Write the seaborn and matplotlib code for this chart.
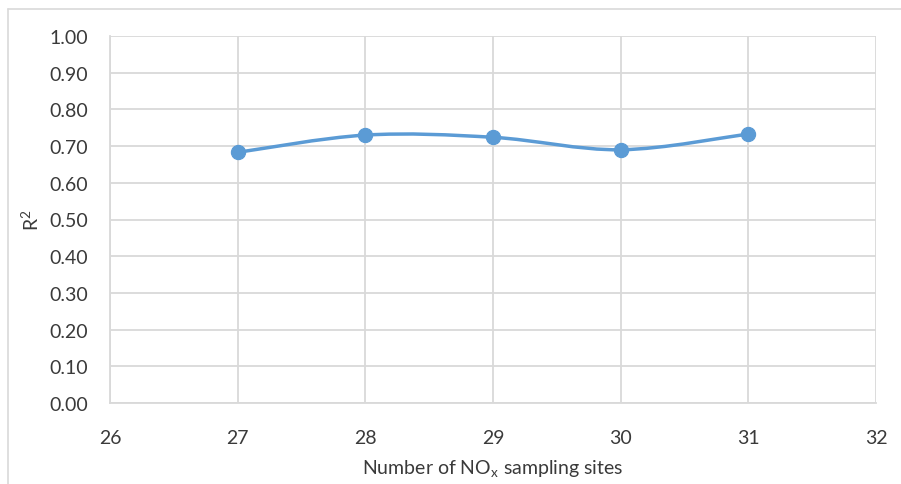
import numpy as np
import pandas as pd
import matplotlib
matplotlib.use("Agg")
import matplotlib.pyplot as plt
from matplotlib.path import Path
from matplotlib.patches import PathPatch
from matplotlib.lines import Line2D
import seaborn as sns

# values
sites = [27, 28, 29, 30, 31]
r2 = [0.683, 0.730, 0.724, 0.690, 0.733]
x_ticks = [26, 27, 28, 29, 30, 31, 32]
y_ticks = [0.0, 0.1, 0.2, 0.3, 0.4, 0.5, 0.6, 0.7, 0.8, 0.9, 1.0]

blue = "#5B9BD5"
grid_col = "#D9D9D9"
text_col = "#3A3A3A"

sns.set_style("white")
plt.rcParams["font.family"] = ["Lato", "DejaVu Sans"]

df = pd.DataFrame({"sites": sites, "r2": r2})

fig = plt.figure(figsize=(9.01, 4.85), dpi=100)
ax = fig.add_axes([110 / 901, 1 - 404 / 485, 766 / 901, 367 / 485])

# smoothed line like excel (catmull-rom as bezier segments)
pts = df[["sites", "r2"]].to_numpy()
verts = [tuple(pts[0])]
codes = [Path.MOVETO]
n = len(pts)
for i in range(n - 1):
    p0 = pts[max(i - 1, 0)]
    p1 = pts[i]
    p2 = pts[i + 1]
    p3 = pts[min(i + 2, n - 1)]
    c1 = p1 + (p2 - p0) / 6
    c2 = p2 - (p3 - p1) / 6
    verts += [tuple(c1), tuple(c2), tuple(p2)]
    codes += [Path.CURVE4] * 3
ax.add_patch(PathPatch(Path(verts, codes), facecolor="none", edgecolor=blue,
                       lw=2.5, capstyle="round", zorder=3))

sns.scatterplot(data=df, x="sites", y="r2", ax=ax, s=105, color=blue,
                edgecolor=blue, linewidth=0.8, zorder=4, legend=False)

ax.set_xlim(26, 32)
ax.set_ylim(0, 1)
ax.set_xticks(x_ticks)
ax.set_yticks(y_ticks)
ax.set_yticklabels([f"{v:.2f}" for v in y_ticks])
ax.grid(True, color=grid_col, lw=1.3)
ax.set_axisbelow(True)
for side in ["top", "right"]:
    ax.spines[side].set_visible(False)
for side in ["left", "bottom"]:
    ax.spines[side].set_color(grid_col)
    ax.spines[side].set_linewidth(1.3)
ax.tick_params(length=0, labelsize=14, colors=text_col)
ax.tick_params(axis="x", pad=19)
ax.tick_params(axis="y", pad=16)

ax.set_xlabel("Number of NO$_\\mathregular{x}$ sampling sites", fontsize=14,
              color=text_col, labelpad=8)
ax.set_ylabel("R$^\\mathregular{2}$", fontsize=14, color=text_col, labelpad=5)

# outer chart border
fig.add_artist(Line2D([8 / 901, 1], [1 - 10 / 485] * 2, color=grid_col, lw=1.2))
fig.add_artist(Line2D([8 / 901] * 2, [0, 1 - 10 / 485], color=grid_col, lw=1.2))

fig.savefig("out.png", dpi=100, facecolor="white")
